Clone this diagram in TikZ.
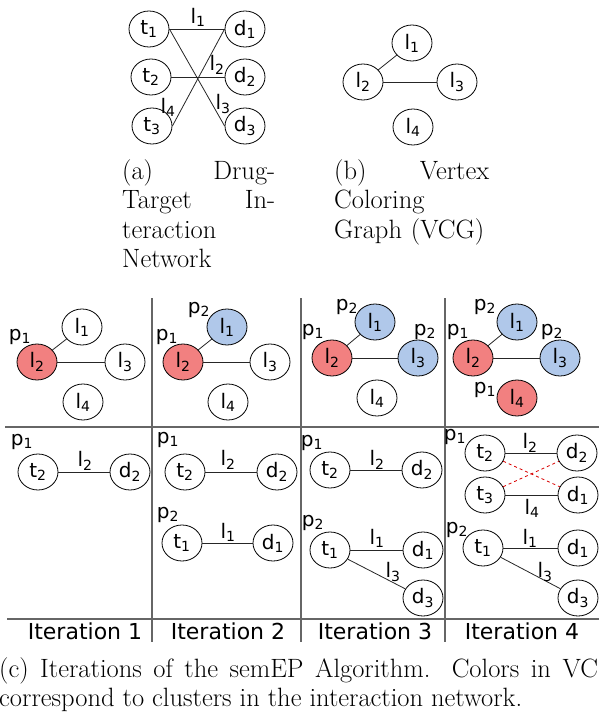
\documentclass[tikz,border=0pt]{standalone}
\usepackage{fontspec}
\usepackage{xcolor}
\usepackage{tikz}
\usetikzlibrary{shapes.geometric}

\newfontfamily\djv{DejaVu Sans}
\newcommand{\ix}[2]{#1\textsubscript{#2}}
\newcommand{\gap}{\hskip 0pt plus 1fill\relax}
\definecolor{clred}{RGB}{242,128,128}
\definecolor{clblue}{RGB}{176,200,234}

\begin{document}
\begin{tikzpicture}[
  x=1pt, y=-1pt,
  every node/.style={font=\djv\fontsize{20}{22}\selectfont},
  vtx/.style={draw, ellipse, line width=0.8pt, minimum width=40pt, minimum height=36pt, inner sep=0pt},
  redvtx/.style={vtx, fill=clred},
  bluevtx/.style={vtx, fill=clblue},
  lbl/.style={inner sep=0pt},
  edge/.style={line width=0.8pt, black!85},
  badedge/.style={line width=0.8pt, red!85!black, dashed},
  grid/.style={line width=1.2pt, black!60},
  capt/.style={font=\rmfamily\fontsize{26.5}{29.5}\selectfont, align=left, inner sep=0pt, anchor=north west},
  iter/.style={font=\djv\fontsize{22}{24}\selectfont, inner sep=0pt}
]
\useasboundingbox (0,0) rectangle (599,712);

% (a) drug-target interaction network
\node[vtx] (at1) at (149,29) {\ix{t}{1}};
\node[vtx] (at2) at (151,77) {\ix{t}{2}};
\node[vtx] (at3) at (152,126) {\ix{t}{3}};
\node[vtx] (ad1) at (245,29) {\ix{d}{1}};
\node[vtx] (ad2) at (245,77) {\ix{d}{2}};
\node[vtx] (ad3) at (245,126) {\ix{d}{3}};
\draw[edge] (at1.east) -- (ad1.west);
\draw[edge] (at2.east) -- (ad2.west);
\draw[edge] (at1.east) -- (ad3.west);
\draw[edge] (at3.east) -- (ad1.west);
\node[lbl] (al1) at (198,17) {\ix{l}{1}};
\node[lbl] (al2) at (217,65) {\ix{l}{2}};
\node[lbl] (al3) at (223,104) {\ix{l}{3}};
\node[lbl] (al4) at (168,107) {\ix{l}{4}};
\node[capt, text width=153pt] (acap) at (122,159) {(a)\gap Drug-\\Target\gap In-\\teraction\\Network};

% (b) vertex coloring graph
\node[vtx] (bl1) at (412,43) {\ix{l}{1}};
\node[vtx] (bl2) at (363,82) {\ix{l}{2}};
\node[vtx] (bl3) at (457,82) {\ix{l}{3}};
\node[vtx] (bl4) at (413,127) {\ix{l}{4}};
\draw[edge] (bl2) -- (bl1);
\draw[edge] (bl2.east) -- (bl3.west);
\node[capt, text width=155pt] (bcap) at (334,159) {(b)\gap Vertex\\Coloring\\Graph (VCG)};

% (c) iterations
\draw[grid] (5,427) -- (599,427);
\draw[grid] (7,619) -- (599,619);
\draw[grid] (152,298) -- (152,642);
\draw[grid] (301,298) -- (301,642);
\draw[grid] (445,298) -- (445,642);

% iteration 1
\node[vtx] (c1l1) at (82,327) {\ix{l}{1}};
\node[redvtx] (c1l2) at (37,362) {\ix{l}{2}};
\node[vtx] (c1l3) at (125,362) {\ix{l}{3}};
\node[vtx] (c1l4) at (83,402) {\ix{l}{4}};
\draw[edge] (c1l2) -- (c1l1);
\draw[edge] (c1l2.east) -- (c1l3.west);
\node[lbl] (c1p1) at (20,337) {\ix{p}{1}};
\node[vtx] (e1t2) at (38,472) {\ix{t}{2}};
\node[vtx] (e1d2) at (130,472) {\ix{d}{2}};
\draw[edge] (e1t2) -- (e1d2);
\node[lbl] (e1l2) at (85,461) {\ix{l}{2}};
\node[lbl] (e1p1) at (22,442) {\ix{p}{1}};

% iteration 2
\node[bluevtx] (c2l1) at (227,327) {\ix{l}{1}};
\node[redvtx] (c2l2) at (183,362) {\ix{l}{2}};
\node[vtx] (c2l3) at (270,362) {\ix{l}{3}};
\node[vtx] (c2l4) at (228,402) {\ix{l}{4}};
\draw[edge] (c2l2) -- (c2l1);
\draw[edge] (c2l2.east) -- (c2l3.west);
\node[lbl] (c2p2) at (199,310) {\ix{p}{2}};
\node[lbl] (c2p1) at (167,337) {\ix{p}{1}};
\node[vtx] (e2t2) at (185,472) {\ix{t}{2}};
\node[vtx] (e2d2) at (277,472) {\ix{d}{2}};
\node[vtx] (e2t1) at (182,543) {\ix{t}{1}};
\node[vtx] (e2d1) at (273,543) {\ix{d}{1}};
\draw[edge] (e2t2) -- (e2d2);
\draw[edge] (e2t1) -- (e2d1);
\node[lbl] (e2l2) at (228,460) {\ix{l}{2}};
\node[lbl] (e2l1) at (228,532) {\ix{l}{1}};
\node[lbl] (e2p1) at (168,440) {\ix{p}{1}};
\node[lbl] (e2p2) at (168,515) {\ix{p}{2}};

% iteration 3
\node[bluevtx] (c3l1) at (375,322) {\ix{l}{1}};
\node[redvtx] (c3l2) at (332,358) {\ix{l}{2}};
\node[bluevtx] (c3l3) at (418,358) {\ix{l}{3}};
\node[vtx] (c3l4) at (377,398) {\ix{l}{4}};
\draw[edge] (c3l2) -- (c3l1);
\draw[edge] (c3l2.east) -- (c3l3.west);
\node[lbl] (c3p2) at (347,307) {\ix{p}{2}};
\node[lbl] (c3p1) at (313,332) {\ix{p}{1}};
\node[lbl] (c3q2) at (425,332) {\ix{p}{2}};
\node[vtx] (e3t2) at (330,470) {\ix{t}{2}};
\node[vtx] (e3d2) at (422,470) {\ix{d}{2}};
\node[vtx] (e3t1) at (330,550) {\ix{t}{1}};
\node[vtx] (e3d1) at (423,550) {\ix{d}{1}};
\node[vtx] (e3d3) at (423,598) {\ix{d}{3}};
\draw[edge] (e3t2) -- (e3d2);
\draw[edge] (e3t1) -- (e3d1);
\draw[edge] (e3t1) -- (e3d3);
\node[lbl] (e3l2) at (377,460) {\ix{l}{2}};
\node[lbl] (e3l1) at (377,538) {\ix{l}{1}};
\node[lbl] (e3l3) at (393,572) {\ix{l}{3}};
\node[lbl] (e3p1) at (312,443) {\ix{p}{1}};
\node[lbl] (e3p2) at (313,523) {\ix{p}{2}};

% iteration 4
\node[bluevtx] (c4l1) at (517,322) {\ix{l}{1}};
\node[redvtx] (c4l2) at (473,358) {\ix{l}{2}};
\node[bluevtx] (c4l3) at (560,358) {\ix{l}{3}};
\node[redvtx] (c4l4) at (517,398) {\ix{l}{4}};
\draw[edge] (c4l2) -- (c4l1);
\draw[edge] (c4l2.east) -- (c4l3.west);
\node[lbl] (c4p2) at (485,307) {\ix{p}{2}};
\node[lbl] (c4p1) at (458,332) {\ix{p}{1}};
\node[lbl] (c4q2) at (552,332) {\ix{p}{2}};
\node[lbl] (c4q1) at (485,390) {\ix{p}{1}};
\node[vtx] (e4t2) at (485,453) {\ix{t}{2}};
\node[vtx] (e4d2) at (577,453) {\ix{d}{2}};
\node[vtx] (e4t3) at (485,495) {\ix{t}{3}};
\node[vtx] (e4d1) at (578,495) {\ix{d}{1}};
\node[vtx] (e4t1) at (483,548) {\ix{t}{1}};
\node[vtx] (e4f1) at (578,548) {\ix{d}{1}};
\node[vtx] (e4d3) at (578,598) {\ix{d}{3}};
\draw[edge] (e4t2) -- (e4d2);
\draw[edge] (e4t3) -- (e4d1);
\draw[badedge] (e4t2) -- (e4d1);
\draw[badedge] (e4t3) -- (e4d2);
\draw[edge] (e4t1) -- (e4f1);
\draw[edge] (e4t1) -- (e4d3);
\node[lbl] (e4l2) at (530,443) {\ix{l}{2}};
\node[lbl] (e4l4) at (532,508) {\ix{l}{4}};
\node[lbl] (e4l1) at (530,538) {\ix{l}{1}};
\node[lbl] (e4l3) at (545,572) {\ix{l}{3}};
\node[lbl] (e4p1) at (455,437) {\ix{p}{1}};
\node[lbl] (e4p2) at (457,530) {\ix{p}{2}};

\node[iter] (it1) at (85,631) {Iteration 1};
\node[iter] (it2) at (228,631) {Iteration 2};
\node[iter] (it3) at (375,631) {Iteration 3};
\node[iter] (it4) at (522,631) {Iteration 4};

\node[capt] (ccap) at (-1,657) {\makebox[618pt][s]{(c) Iterations of the semEP Algorithm. Colors in VCG}\\correspond to clusters in the interaction network.};
\end{tikzpicture}
\end{document}
